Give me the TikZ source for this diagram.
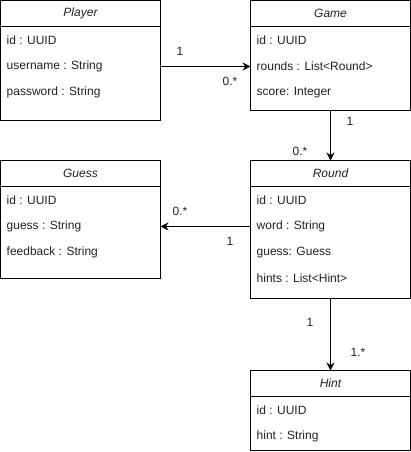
\documentclass[tikz,border=0pt]{standalone}
\usepackage{fontspec}
\setmainfont{Liberation Sans}
\usetikzlibrary{arrows.meta}
\definecolor{txt}{HTML}{222222}
\tikzset{
  cls/.style={draw=black, line width=1pt, rectangle, inner sep=0pt, outer sep=0pt, anchor=north west, minimum width=160pt},
  ctitle/.style={font=\fontsize{12}{14}\selectfont\itshape, text=txt, inner sep=0pt},
  attr/.style={font=\fontsize{12}{14}\selectfont, text=txt, inner sep=0pt, anchor=west},
  mult/.style={font=\fontsize{12}{14}\selectfont, text=txt, inner sep=0pt},
  arr/.style={line width=1pt, -{Stealth[length=8pt,width=8pt]}},
}
\begin{document}
\begin{tikzpicture}[x=1pt,y=-1pt]
\useasboundingbox[fill=white] (0,0) rectangle (411,452);
% boxes
\node[cls, minimum height=120pt] (player) at (0.5,0.5) {};
\node[cls, minimum height=110pt] (game) at (250.5,0.5) {};
\node[cls, minimum height=138pt] (round) at (250.5,160.5) {};
\node[cls, minimum height=118pt] (guess) at (0.5,160.5) {};
\node[cls, minimum height=80pt] (hint) at (250.5,370.5) {};
% header lines and titles
\foreach \c/\t in {player/Player, game/Game, round/Round, guess/Guess, hint/Hint}{
  \draw[line width=1pt] ([yshift=-26pt]\c.north west) -- ([yshift=-26pt]\c.north east);
  \node[ctitle] (\c-title) at ([yshift=-13pt]\c.north) {\t};
}
% attributes
\node[attr] (player-a1) at ([xshift=6pt,yshift=-40pt]player.north west) {id : UUID};
\node[attr] (player-a2) at ([xshift=6pt,yshift=-66pt]player.north west) {username : String};
\node[attr] (player-a3) at ([xshift=6pt,yshift=-92pt]player.north west) {password : String};
\node[attr] (game-a1) at ([xshift=6pt,yshift=-40pt]game.north west) {id : UUID};
\node[attr] (game-a2) at ([xshift=6pt,yshift=-66pt]game.north west) {rounds : List<Round>};
\node[attr] (game-a3) at ([xshift=6pt,yshift=-92pt]game.north west) {score: Integer};
\node[attr] (round-a1) at ([xshift=6pt,yshift=-40pt]round.north west) {id : UUID};
\node[attr] (round-a2) at ([xshift=6pt,yshift=-66pt]round.north west) {word : String};
\node[attr] (round-a3) at ([xshift=6pt,yshift=-92pt]round.north west) {guess: Guess};
\node[attr] (round-a4) at ([xshift=6pt,yshift=-118pt]round.north west) {hints : List<Hint>};
\node[attr] (guess-a1) at ([xshift=6pt,yshift=-40pt]guess.north west) {id : UUID};
\node[attr] (guess-a2) at ([xshift=6pt,yshift=-66pt]guess.north west) {guess : String};
\node[attr] (guess-a3) at ([xshift=6pt,yshift=-92pt]guess.north west) {feedback : String};
\node[attr] (hint-a1) at ([xshift=6pt,yshift=-40pt]hint.north west) {id : UUID};
\node[attr] (hint-a2) at ([xshift=6pt,yshift=-66pt]hint.north west) {hint : String};
% connectors
\draw[arr] ([yshift=-66pt]player.north east) -- ([yshift=-66pt]game.north west);
\draw[arr] (game.south) -- (round.north);
\draw[arr] ([yshift=-66pt]round.north west) -- ([yshift=-66pt]guess.north east);
\draw[arr] (round.south) -- (hint.north);
% multiplicities
\node[mult] (m1) at (180,51) {1};
\node[mult] (m2) at (230,81) {0.*};
\node[mult] (m3) at (350,121) {1};
\node[mult] (m4) at (300,151) {0.*};
\node[mult] (m5) at (180,211) {0.*};
\node[mult] (m6) at (230,241) {1};
\node[mult] (m7) at (310,322) {1};
\node[mult] (m8) at (358,352) {1.*};
\end{tikzpicture}
\end{document}
